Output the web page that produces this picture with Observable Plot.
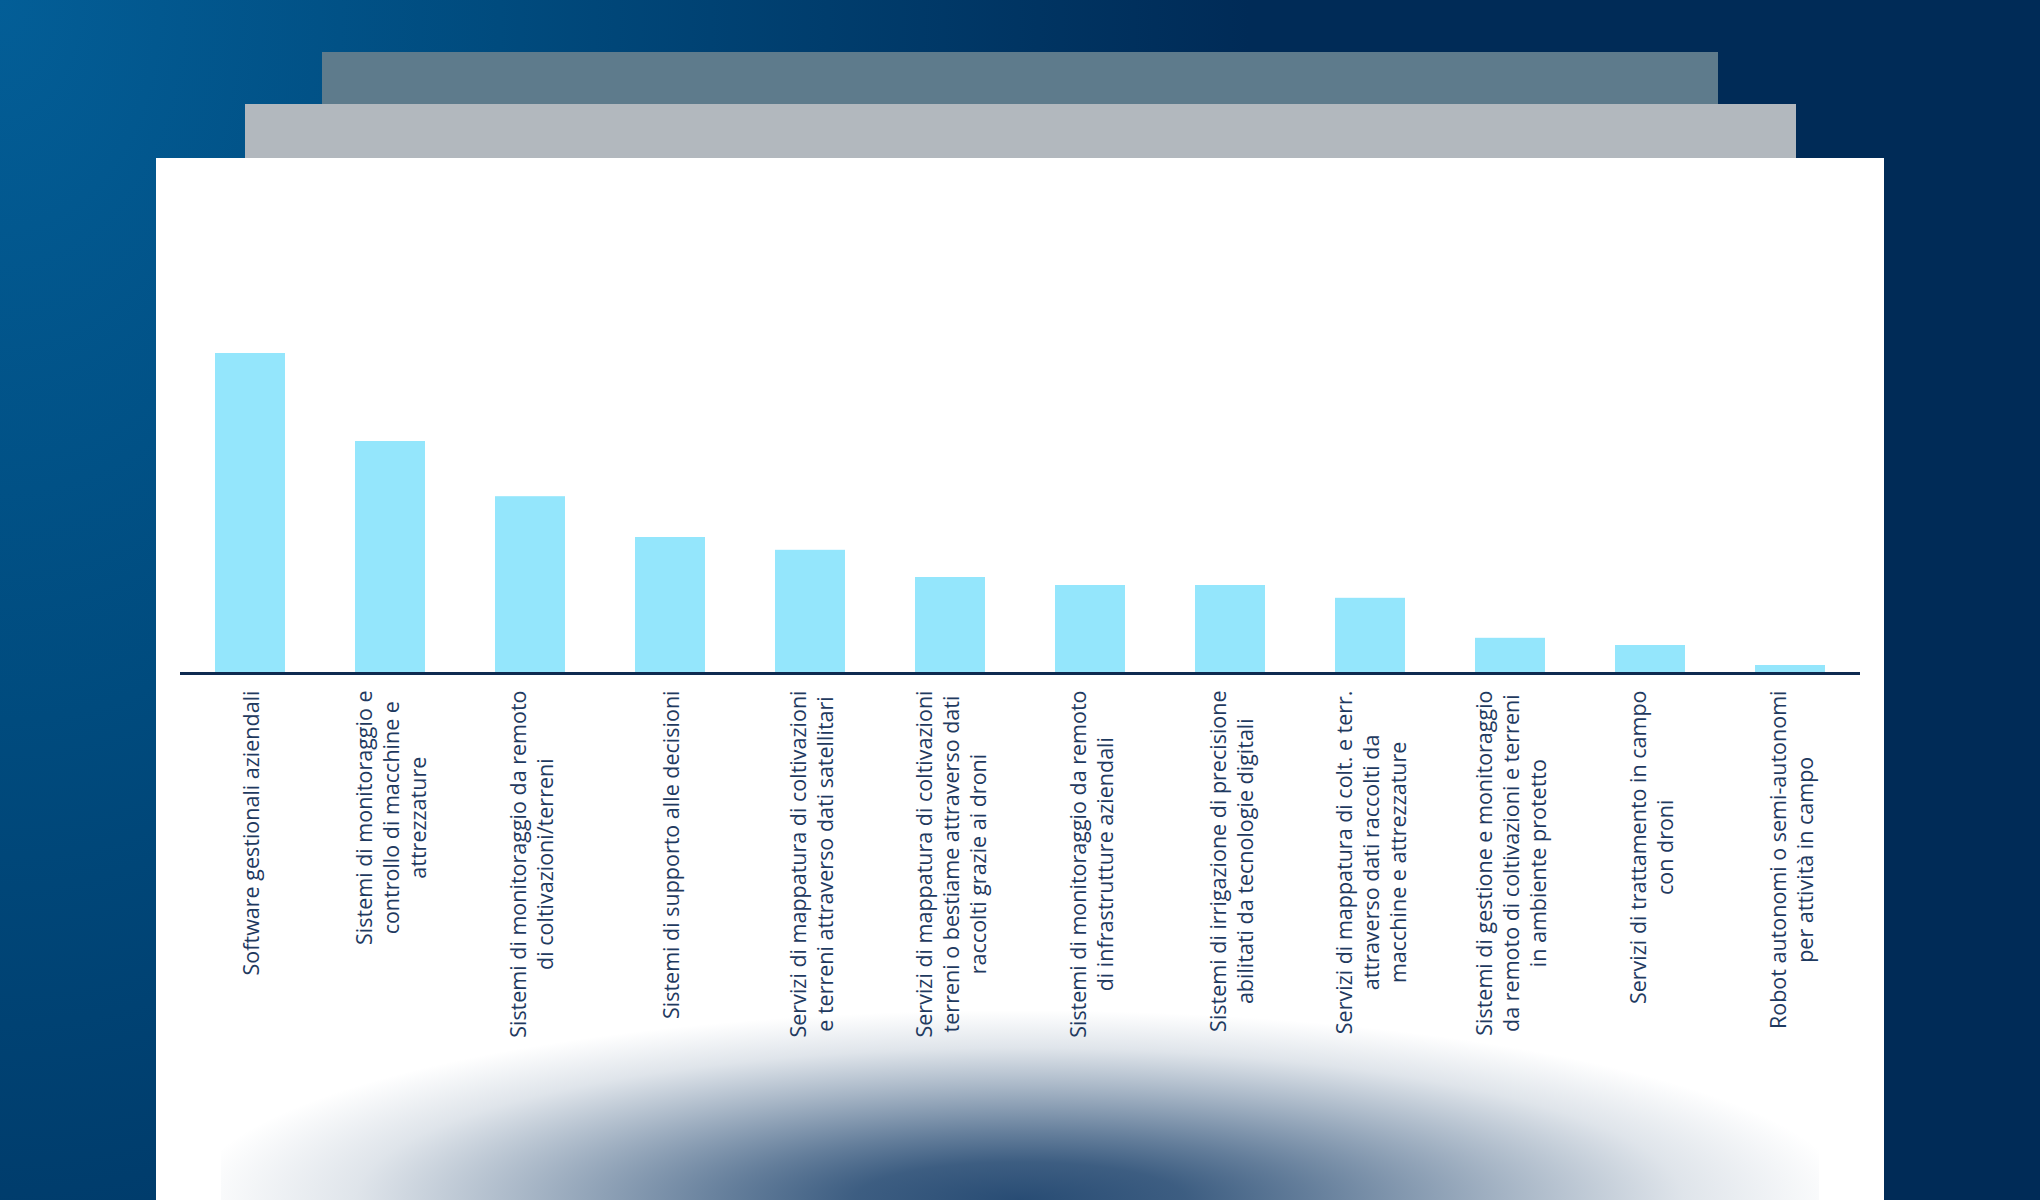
<!DOCTYPE html>
<html>
<head>
<meta charset="utf-8">
<script src="https://cdn.jsdelivr.net/npm/d3@7"></script>
<script src="https://cdn.jsdelivr.net/npm/@observablehq/plot@0.6"></script>
<style>
  html, body { margin: 0; padding: 0; }
  #page {
    position: relative; width: 2040px; height: 1200px; overflow: hidden;
    background-color: #002a55;
    background-image: radial-gradient(ellipse 1250px 1800px at 0% 0%, #035e97 0%, #004b7e 40%, #002b57 100%);
  }
  .abs { position: absolute; }
</style>
</head>
<body>
<div id="page">
  <div class="abs" style="left:322px;top:52px;width:1396px;height:106px;background:#5e7b8c;"></div>
  <div class="abs" style="left:245px;top:104px;width:1551px;height:54px;background:#b2b8be;"></div>
  <div class="abs" style="left:156px;top:158px;width:1728px;height:1042px;background:#ffffff;"></div>
  <div class="abs" style="left:221px;top:1000px;width:1598px;height:200px;
       background:radial-gradient(ellipse 830px 190px at 50% 100%, rgba(40,76,116,1) 0%, rgba(40,76,116,0.9) 20%, rgba(40,76,116,0.72) 35%, rgba(40,76,116,0.4) 60%, rgba(40,76,116,0.15) 80%, rgba(40,76,116,0) 100%);"></div>
  <div id="chart" class="abs" style="left:156px;top:158px;"></div>
</div>
<script>
// ---- data ----
const categories = [
  "Software gestionali aziendali",
  "Sistemi di monitoraggio e\ncontrollo di macchine e\nattrezzature",
  "Sistemi di monitoraggio da remoto\ndi coltivazioni/terreni",
  "Sistemi di supporto alle decisioni",
  "Servizi di mappatura di coltivazioni\ne terreni attraverso dati satellitari",
  "Servizi di mappatura di coltivazioni\nterreni o bestiame attraverso dati\nraccolti grazie ai droni",
  "Sistemi di monitoraggio da remoto\ndi infrastrutture aziendali",
  "Sistemi di irrigazione di precisione\nabilitati da tecnologie digitali",
  "Servizi di mappatura di colt. e terr.\nattraverso dati raccolti da\nmacchine e attrezzature",
  "Sistemi di gestione e monitoraggio\nda remoto di coltivazioni e terreni\nin ambiente protetto",
  "Servizi di trattamento in campo\ncon droni",
  "Robot autonomi o semi-autonomi\nper attività in campo"
];
const values = [40, 29, 22.1, 17, 15.4, 12, 11, 11, 9.4, 4.4, 3.5, 1];

const data = categories.map((c, i) => ({category: c, value: values[i]}));

const FONT_FAMILY = "Open Sans";
const FONT_SIZE = 21.5;
const GAP = 17;
const canvas = document.createElement("canvas");
const ctx = canvas.getContext("2d");
ctx.font = `${FONT_SIZE}px "${FONT_FAMILY}"`;
const longest = (s) => Math.max(...s.split("\n").map((l) => ctx.measureText(l).width));

const chart = Plot.plot({
  width: 1728,
  height: 1042,
  marginLeft: 24,
  marginRight: 24,
  marginTop: 115,
  marginBottom: 527,
  style: {background: "transparent", overflow: "visible"},
  x: {domain: categories, paddingInner: 0.5, paddingOuter: 0.25, axis: null},
  y: {domain: [0, 50], axis: null},
  marks: [
    Plot.barY(data, {x: "category", y: "value", fill: "#94e6fc"}),
    Plot.ruleY([0], {stroke: "#0e2a50", strokeWidth: 3}),
    Plot.text(data, {
      x: "category",
      y: () => 0,
      text: "category",
      rotate: -90,
      textAnchor: "middle",
      lineAnchor: "middle",
      lineHeight: 1.26,
      fontSize: FONT_SIZE,
      fontFamily: FONT_FAMILY,
      fill: "#1f3a5f",
      render(index, scales, vals, dims, context, next) {
        const g = next(index, scales, vals, dims, context);
        const texts = g.querySelectorAll("text");
        texts.forEach((t, k) => {
          const i = index[k];
          const w = longest(data[i].category);
          const x = vals.x[i];
          const y = vals.y[i] + GAP + w / 2;
          t.setAttribute("transform", `translate(${x},${y}) rotate(-90)`);
        });
        return g;
      }
    })
  ]
});
document.getElementById("chart").appendChild(chart);
</script>
</body>
</html>
